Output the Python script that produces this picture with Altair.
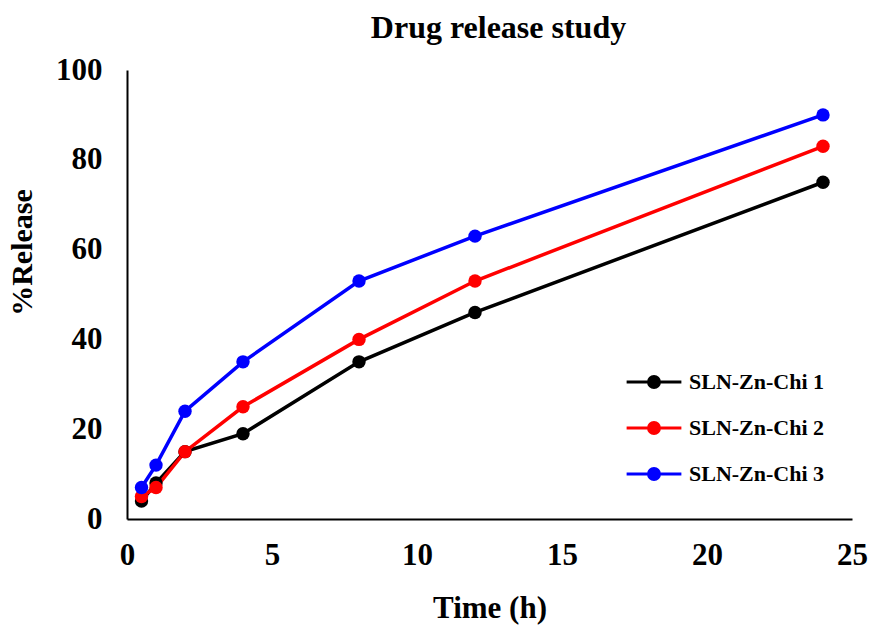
import altair as alt
import pandas as pd

time_h = [0.5, 1, 2, 4, 8, 12, 24]
series_names = ["SLN-Zn-Chi 1", "SLN-Zn-Chi 2", "SLN-Zn-Chi 3"]
release_1 = [4, 8, 15, 19, 35, 46, 75]
release_2 = [5, 7, 15, 25, 40, 53, 83]
release_3 = [7, 12, 24, 35, 53, 63, 90]
colors = ["#000000", "#ff0000", "#0000ff"]

rows = []
for name, vals in zip(series_names, [release_1, release_2, release_3]):
    for t, v in zip(time_h, vals):
        rows.append({"Time": t, "Release": v, "Series": name})
df = pd.DataFrame(rows)

FONT = "Liberation Serif"

color = alt.Color(
    "Series:N",
    scale=alt.Scale(domain=series_names, range=colors),
    legend=alt.Legend(
        title=None,
        orient="none",
        legendX=498,
        legendY=283,
        symbolType="M-1,0L1,0M-0.2,0A0.2,0.2 0 1,1 0.2,0A0.2,0.2 0 1,1 -0.2,0Z",
        symbolSize=3000,
        symbolStrokeWidth=3,
        symbolOpacity=1,
        labelFont=FONT,
        labelFontWeight="bold",
        labelFontSize=22,
        labelColor="#000000",
        labelOffset=6,
        rowPadding=5,
    ),
)

x = alt.X(
    "Time:Q",
    scale=alt.Scale(domain=[0, 25], nice=False),
    axis=alt.Axis(
        title="Time (h)",
        values=[0, 5, 10, 15, 20, 25],
        grid=False,
        ticks=False,
        labelFlush=False,
        domainColor="#000000",
        domainWidth=2,
        labelFont=FONT,
        labelFontWeight="bold",
        labelFontSize=31,
        labelColor="#000000",
        labelPadding=21,
        titleFont=FONT,
        titleFontWeight="bold",
        titleFontSize=31,
        titleColor="#000000",
        titlePadding=23,
    ),
)
y = alt.Y(
    "Release:Q",
    scale=alt.Scale(domain=[0, 100], nice=False),
    axis=alt.Axis(
        title="%Release",
        values=[0, 20, 40, 60, 80, 100],
        grid=False,
        ticks=False,
        labelFlush=False,
        domainColor="#000000",
        domainWidth=2,
        labelFont=FONT,
        labelFontWeight="bold",
        labelFontSize=31,
        labelColor="#000000",
        labelPadding=25,
        titleFont=FONT,
        titleFontWeight="bold",
        titleFontSize=30,
        titleColor="#000000",
        titleX=-90,
        titleY=182,
    ),
)

base = alt.Chart(df)
lines = base.mark_line(strokeWidth=3.5).encode(x=x, y=y, color=color)
points = base.mark_point(filled=True, size=180, opacity=1).encode(x=x, y=y, color=color)

chart = (
    alt.layer(lines, points)
    .properties(
        width=725,
        height=449,
        background="white",
        view=alt.ViewBackground(stroke="white", strokeWidth=0, strokeOpacity=0),
        title=alt.TitleParams(
            "Drug release study",
            font=FONT,
            fontWeight="bold",
            fontSize=32,
            color="#000000",
            offset=9,
            dx=9,
        ),
        autosize=alt.AutoSizeParams(type="none"),
        padding={"left": 127, "top": 70, "right": 17, "bottom": 107},
    )
    .configure(style={"cell": {"stroke": "white", "strokeWidth": 0, "strokeOpacity": 0}})
    .configure_view(strokeWidth=0, stroke="white", strokeOpacity=0)
)

chart.save("out.html", embed_options={"renderer": "svg", "actions": False})
